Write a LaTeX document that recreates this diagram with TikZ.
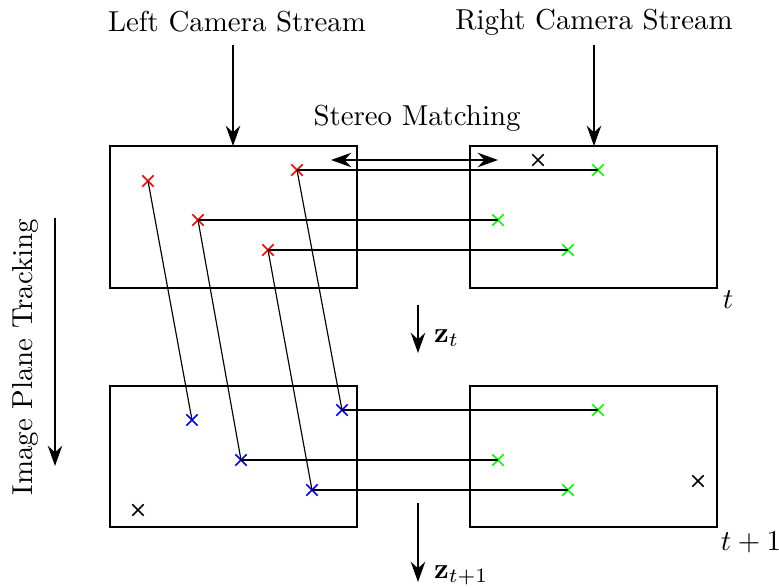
\documentclass[tikz,border=0pt]{standalone}
\usetikzlibrary{arrows.meta,shapes.misc}
\begin{document}
\begin{tikzpicture}[x=0.01218cm,y=-0.01218cm,
  frame/.style={draw,line width=0.9pt},
  mk/.style={cross out,draw,inner sep=0pt,minimum size=3.4pt,line width=0.5pt},
  redmk/.style={mk,draw=red},
  grnmk/.style={mk,draw=green},
  blumk/.style={mk,draw=blue},
  blkmk/.style={mk,draw=black},
  link/.style={line width=0.4pt},
  arr/.style={-{Stealth[length=7pt,width=5pt]},line width=0.8pt},
  darr/.style={{Stealth[length=7pt,width=5pt]}-{Stealth[length=7pt,width=5pt]},line width=0.8pt}]
\useasboundingbox (0,0) rectangle (779,588);
% frames
\draw[frame] (110,146) rectangle (357,288);
\draw[frame] (470,146) rectangle (717,288);
\draw[frame] (110,386) rectangle (357,527);
\draw[frame] (470,386) rectangle (717,527);
\coordinate (LT) at (233,146);
\coordinate (RT) at (594,146);
% titles
\node (lcs) at (237,22) {Left Camera Stream};
\node (rcs) at (594,22) {Right Camera Stream};
\node (sm) at (417,118) {Stereo Matching};
\coordinate (lcsb) at (233,45);
\coordinate (rcsb) at (594,45);
\draw[arr] (lcsb) -- (LT);
\draw[arr] (rcsb) -- (RT);
\coordinate (sma) at (331,160);
\coordinate (smb) at (498,160);
\draw[darr] (sma) -- (smb);
% time labels
\node (t) at (728,300) {$t$};
\node (t1) at (751,542) {$t+1$};
\coordinate (zta) at (418,305);
\coordinate (ztb) at (418,353);
\draw[arr] (zta) -- (ztb);
\node[anchor=west] (zt) at (424,338) {$\mathbf{z}_t$};
\coordinate (ztta) at (418,503);
\coordinate (zttb) at (418,582);
\draw[arr] (ztta) -- (zttb);
\node[anchor=west] (ztt) at (424,575) {$\mathbf{z}_{t+1}$};
% image plane tracking
\node[rotate=90] (ipt) at (25,357) {Image Plane Tracking};
\coordinate (ipta) at (55,218);
\coordinate (iptb) at (55,466);
\draw[arr] (ipta) -- (iptb);
% top-left red
\node[redmk] (r1) at (148,181) {};
\node[redmk] (r2) at (297,170) {};
\node[redmk] (r3) at (198,220) {};
\node[redmk] (r4) at (268,250) {};
% top-right green
\node[grnmk] (g1) at (598,170) {};
\node[grnmk] (g2) at (498,220) {};
\node[grnmk] (g3) at (568,250) {};
\node[blkmk] (k1) at (538,160) {};
% bottom-left blue
\node[blumk] (b1) at (192,420) {};
\node[blumk] (b2) at (342,410) {};
\node[blumk] (b3) at (241,460) {};
\node[blumk] (b4) at (312,490) {};
\node[blkmk] (k2) at (138,510) {};
% bottom-right green
\node[grnmk] (h1) at (598,410) {};
\node[grnmk] (h2) at (498,460) {};
\node[grnmk] (h3) at (568,490) {};
\node[blkmk] (k3) at (698,481) {};
% links
\draw[link] (r2.center) -- (g1.center);
\draw[link] (r3.center) -- (g2.center);
\draw[link] (r4.center) -- (g3.center);
\draw[link] (r1.center) -- (b1.center);
\draw[link] (r2.center) -- (b2.center);
\draw[link] (r3.center) -- (b3.center);
\draw[link] (r4.center) -- (b4.center);
\draw[link] (b2.center) -- (h1.center);
\draw[link] (b3.center) -- (h2.center);
\draw[link] (b4.center) -- (h3.center);
\end{tikzpicture}
\end{document}
